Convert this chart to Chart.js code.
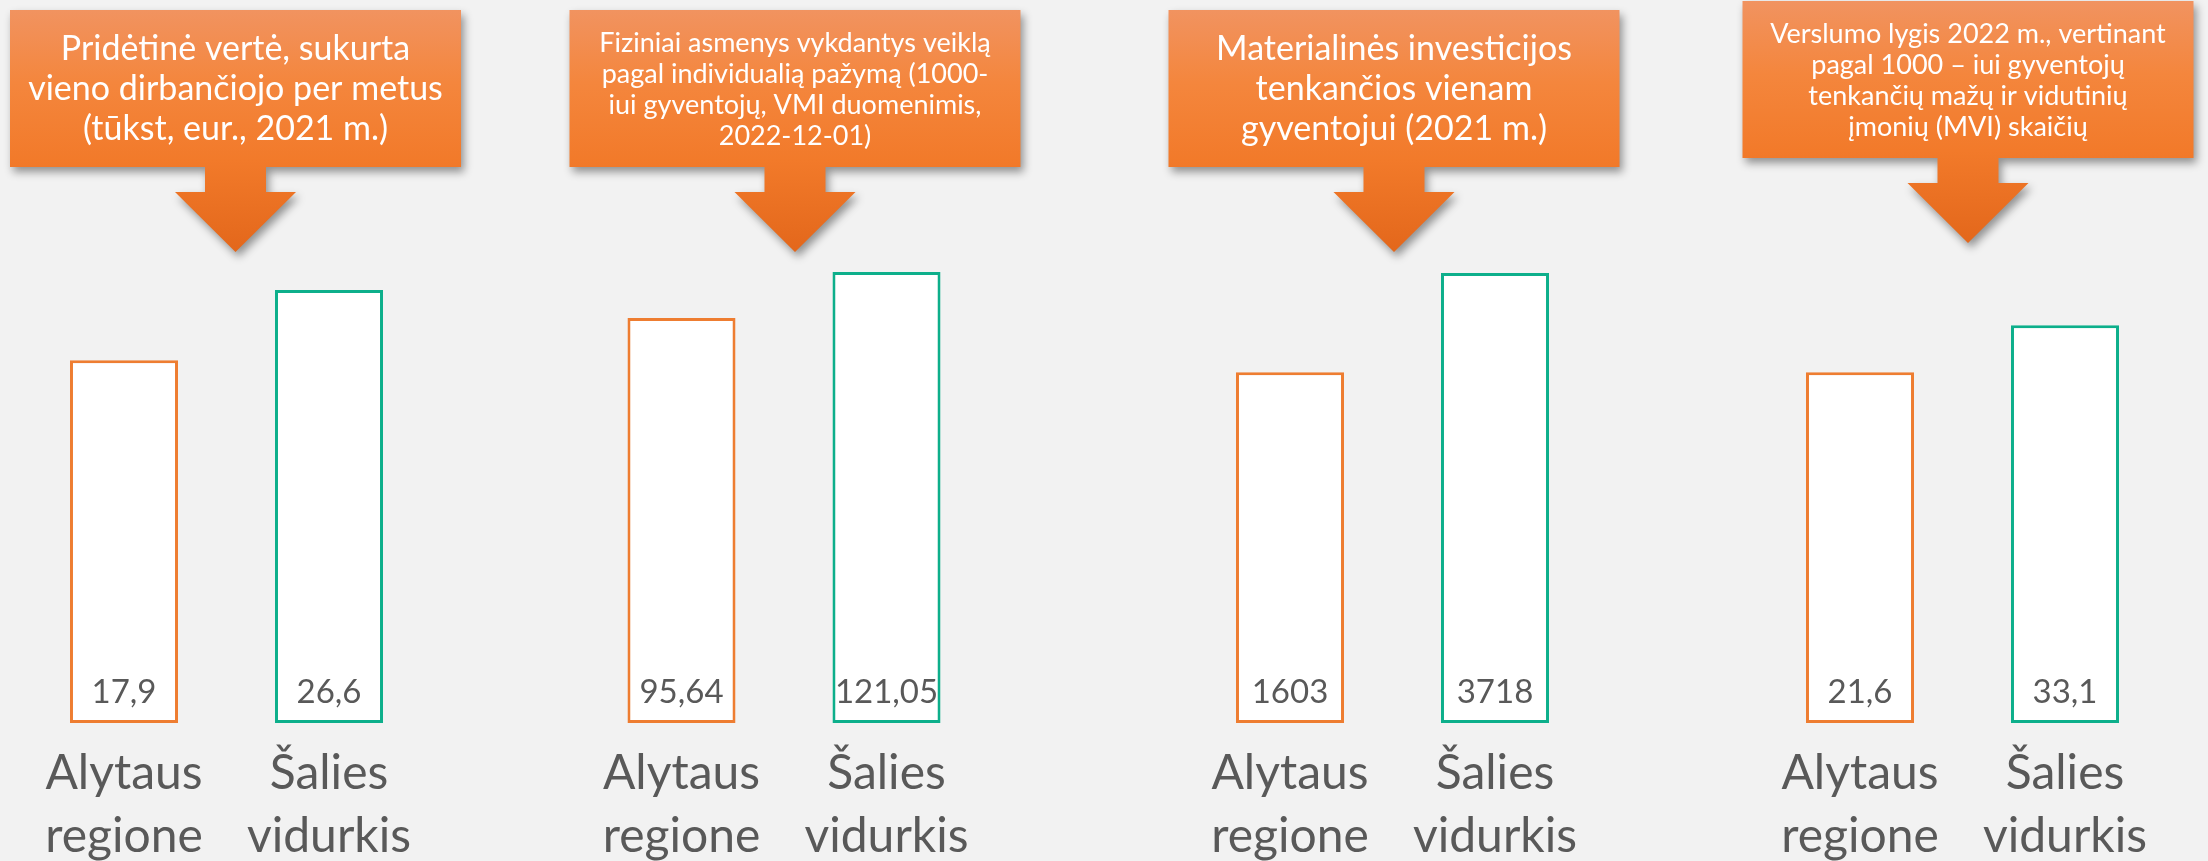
<!DOCTYPE html>
<html>
<head>
<meta charset="utf-8">
<script src="https://cdn.jsdelivr.net/npm/chart.js@4.4.0/dist/chart.umd.min.js"></script>
<style>
  html, body { margin: 0; padding: 0; background: #F2F2F2; width: 2208px; height: 861px; overflow: hidden; }
  canvas { position: absolute; left: 0; top: 0; }
</style>
</head>
<body>
<canvas id="c0" width="2208" height="900"></canvas>
<canvas id="c1" width="2208" height="900"></canvas>
<canvas id="c2" width="2208" height="900"></canvas>
<canvas id="c3" width="2208" height="900"></canvas>
<script>
// ---- data ----
const categories = [["Alytaus", "regione"], ["Šalies", "vidurkis"]];
const alytausValues = [17.9, 95.64, 1603, 21.6];
const saliesValues = [26.6, 121.05, 3718, 33.1];
const panelTitles = [
  ["Pridėtinė vertė, sukurta", "vieno dirbančiojo per metus", "(tūkst, eur., 2021 m.)"],
  ["Fiziniai asmenys vykdantys veiklą", "pagal individualią pažymą (1000-", "iui gyventojų, VMI duomenimis,", "2022-12-01)"],
  ["Materialinės investicijos", "tenkančios vienam", "gyventojui (2021 m.)"],
  ["Verslumo lygis 2022 m., vertinant", "pagal 1000 – iui gyventojų", "tenkančių mažų ir vidutinių", "įmonių (MVI) skaičių"]
];

// ---- layout / style (not data) ----
const ORANGE = '#EE7D31';
const GREEN = '#0DAF8B';
const TEXT = '#595959';
const panelLeft = [21.5, 579, 1187.5, 1757.5];
const panelWidth = 410;
const scaleMin = [-27.1, -127.6, -5874, -64.04];
const scaleMax = [35.04, 148.6, 4807, 58.3];
const calloutDx = [9, 11, 1.5, 5.5];
const calloutTop = [10, 10, 10, 1];
const calloutFont = [34, 27, 34, 27];
const calloutLineH = [40, 31, 40, 31];

function fmt(v) { return String(v).replace('.', ','); }

const valueLabelPlugin = {
  id: 'valueLabels',
  afterDatasetsDraw(chart) {
    const ctx = chart.ctx;
    const meta = chart.getDatasetMeta(0);
    const ds = chart.data.datasets[0];
    ctx.save();
    ctx.font = '33px Lato';
    ctx.fillStyle = TEXT;
    ctx.textAlign = 'center';
    ctx.textBaseline = 'alphabetic';
    meta.data.forEach((bar, i) => {
      ctx.fillText(fmt(ds.data[i]), bar.x, bar.base - 20);
    });
    ctx.restore();
  }
};

const calloutPlugin = {
  id: 'callout',
  beforeDraw(chart, args, opts) {
    const ctx = chart.ctx;
    const ca = chart.chartArea;
    const cx = (ca.left + ca.right) / 2 + opts.dx;
    const W = 451, H = 157;
    const L = cx - W / 2, R = cx + W / 2, T = opts.top, B = T + H;
    const sw = 30.5, hw = 60.5, sh = 25, hh = 60;
    const tip = B + sh + hh;
    ctx.save();
    const g = ctx.createLinearGradient(0, T, 0, tip);
    g.addColorStop(0, '#F19360');
    g.addColorStop(0.3, '#F4863D');
    g.addColorStop(0.62, '#F27A2A');
    g.addColorStop(1, '#E3671B');
    ctx.beginPath();
    ctx.moveTo(L, T);
    ctx.lineTo(R, T);
    ctx.lineTo(R, B);
    ctx.lineTo(cx + sw, B);
    ctx.lineTo(cx + sw, B + sh);
    ctx.lineTo(cx + hw, B + sh);
    ctx.lineTo(cx, tip);
    ctx.lineTo(cx - hw, B + sh);
    ctx.lineTo(cx - sw, B + sh);
    ctx.lineTo(cx - sw, B);
    ctx.lineTo(L, B);
    ctx.closePath();
    ctx.shadowColor = 'rgba(0,0,0,0.40)';
    ctx.shadowBlur = 9;
    ctx.shadowOffsetX = 3;
    ctx.shadowOffsetY = 5;
    ctx.fillStyle = g;
    ctx.fill();
    ctx.restore();

    ctx.save();
    ctx.fillStyle = '#FFFFFF';
    ctx.font = opts.fontSize + 'px Lato';
    ctx.textAlign = 'center';
    ctx.textBaseline = 'middle';
    const lines = opts.lines;
    const n = lines.length;
    const cy = T + H / 2 + 1;
    lines.forEach((ln, i) => {
      ctx.fillText(ln, cx, cy + (i - (n - 1) / 2) * opts.lineH);
    });
    ctx.restore();
  }
};

function makeChart(i) {
  const canvas = document.getElementById('c' + i);
  return new Chart(canvas, {
    type: 'bar',
    data: {
      labels: categories,
      datasets: [{
        data: [alytausValues[i], saliesValues[i]],
        backgroundColor: '#FFFFFF',
        borderColor: [ORANGE, GREEN],
        borderWidth: 3,
        borderSkipped: false,
        base: scaleMin[i],
        barPercentage: 0.527,
        categoryPercentage: 1
      }]
    },
    options: {
      responsive: false,
      animation: false,
      devicePixelRatio: 1,
      layout: {
        padding: { left: panelLeft[i], right: 2208 - panelLeft[i] - panelWidth, top: 222, bottom: 13 }
      },
      plugins: {
        legend: { display: false },
        tooltip: { enabled: false },
        callout: { dx: calloutDx[i], top: calloutTop[i], lines: panelTitles[i], fontSize: calloutFont[i], lineH: calloutLineH[i] }
      },
      scales: {
        x: {
          grid: { display: false, drawTicks: false },
          border: { display: false },
          ticks: {
            color: TEXT,
            font: { family: 'Lato', size: 48, lineHeight: 1.333 },
            padding: 18,
            maxRotation: 0,
            autoSkip: false
          }
        },
        y: { display: false, min: scaleMin[i], max: scaleMax[i] }
      }
    },
    plugins: [calloutPlugin, valueLabelPlugin]
  });
}

(document.fonts && document.fonts.load ? Promise.all([document.fonts.load('48px Lato'), document.fonts.load('33px Lato')]) : Promise.resolve())
  .catch(() => {})
  .then(() => { for (let i = 0; i < 4; i++) makeChart(i); });
</script>
</body>
</html>
